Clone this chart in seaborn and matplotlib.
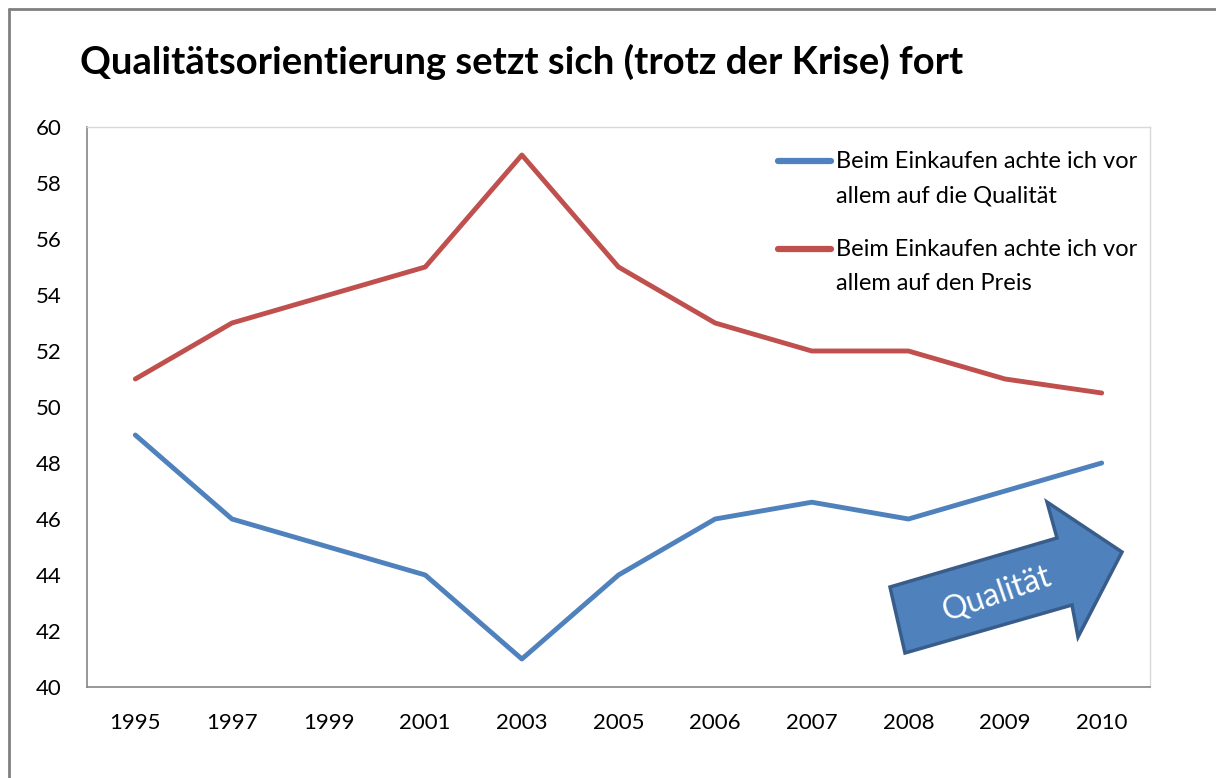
import pandas as pd
import matplotlib.pyplot as plt
import seaborn as sns
from matplotlib.patches import Polygon
from matplotlib.lines import Line2D

# Data
years = ['1995', '1997', '1999', '2001', '2003', '2005', '2006', '2007', '2008', '2009', '2010']
qualitaet = [49, 46, 45, 44, 41, 44, 46, 46.6, 46, 47, 48]
preis = [51, 53, 54, 55, 59, 55, 53, 52, 52, 51, 50.5]
series_labels = ['Beim Einkaufen achte ich vor\nallem auf die Qualität',
                 'Beim Einkaufen achte ich vor\nallem auf den Preis']
colors = ['#4F81BD', '#C0504D']

df = pd.DataFrame({
    'Jahr': years * 2,
    'Wert': qualitaet + preis,
    'Serie': [series_labels[0]] * len(years) + [series_labels[1]] * len(years),
})

sns.set_style('white')
plt.rcParams['font.family'] = ['Lato', 'DejaVu Sans']
plt.rcParams['text.color'] = 'black'

fig = plt.figure(figsize=(12.16, 7.78), dpi=100)
ax = fig.add_axes([87 / 1216, 1 - 687 / 778, (1150 - 87) / 1216, (687 - 127) / 778])

sns.lineplot(data=df, x='Jahr', y='Wert', hue='Serie', palette=colors,
             linewidth=3.5, ax=ax, legend=False)

ax.set_xlim(-0.5, len(years) - 0.5)
ax.set_ylim(40, 60)
ax.set_yticks(range(40, 61, 2))
ax.set_xlabel('')
ax.set_ylabel('')
ax.tick_params(axis='both', length=0, labelsize=16, colors='black')
ax.tick_params(axis='y', pad=18)
ax.tick_params(axis='x', pad=19)
for side in ['left', 'bottom']:
    ax.spines[side].set_color('#868686')
    ax.spines[side].set_linewidth(1.2)
for side in ['top', 'right']:
    ax.spines[side].set_color('#D9D9D9')
    ax.spines[side].set_linewidth(1.0)

# Legend, handle lined up with the first text line
handles = [Line2D([0], [0], color=c, lw=4.5) for c in colors]
leg = ax.legend(handles, series_labels, loc='upper left',
                bbox_to_anchor=(757 / 1216, 1 - 130 / 778), bbox_transform=fig.transFigure,
                frameon=False, fontsize=17, handlelength=2.25, handletextpad=0.2,
                labelspacing=1.4)
for t in leg.get_texts():
    t.set_linespacing(1.75)
    t.set_color('black')
for h in leg.legend_handles:
    h.set_ydata([v + 13 for v in h.get_ydata()])

# Title
fig.text(80 / 1216, 1 - 62 / 778, 'Qualitätsorientierung setzt sich (trotz der Krise) fort',
         fontsize=27.5, fontweight='bold', va='center', ha='left', color='black')

# Block arrow "Qualität"
arrow_px = [(890, 587), (1057, 538), (1047, 502), (1122, 552),
            (1078, 637), (1072, 605), (905, 653)]
arrow = Polygon([(x / 1216, 1 - y / 778) for x, y in arrow_px], closed=True,
                transform=fig.transFigure, facecolor='#4F81BD', edgecolor='#385D8A',
                linewidth=2.5, zorder=5)
fig.add_artist(arrow)
fig.text(997 / 1216, 1 - 594 / 778, 'Qualität', color='white', fontsize=23,
         rotation=19, ha='center', va='center', zorder=6)

# Outer frame (top and left edges visible)
fig.add_artist(Line2D([9 / 1216, 9 / 1216], [0, 1 - 9 / 778], transform=fig.transFigure,
                      color='#808080', lw=2))
fig.add_artist(Line2D([9 / 1216, 1], [1 - 9 / 778, 1 - 9 / 778], transform=fig.transFigure,
                      color='#808080', lw=2))

fig.savefig('out.png', dpi=100)
